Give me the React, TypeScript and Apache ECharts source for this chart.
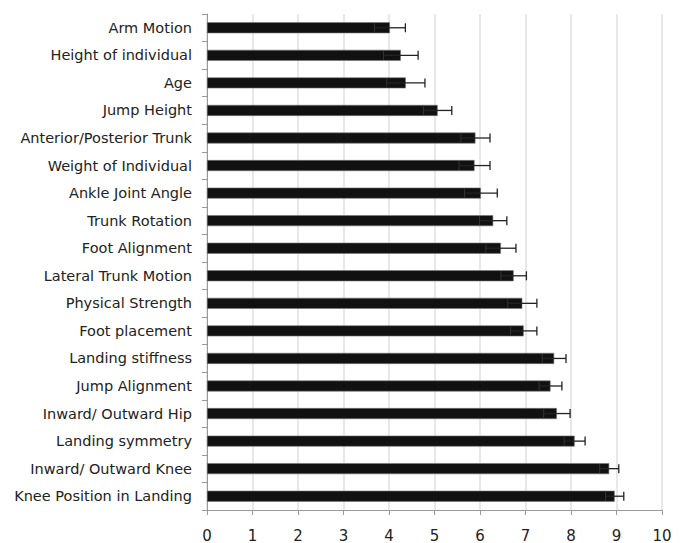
import React, { useEffect, useRef } from "react";
import * as echarts from "echarts";

const categories = [
  "Arm Motion",
  "Height of individual",
  "Age",
  "Jump Height",
  "Anterior/Posterior Trunk",
  "Weight of Individual",
  "Ankle Joint Angle",
  "Trunk Rotation",
  "Foot Alignment",
  "Lateral Trunk Motion",
  "Physical Strength",
  "Foot placement",
  "Landing stiffness",
  "Jump Alignment",
  "Inward/ Outward Hip",
  "Landing symmetry",
  "Inward/ Outward Knee",
  "Knee Position in Landing",
];

const means = [4.02, 4.26, 4.37, 5.07, 5.9, 5.88, 6.02, 6.29, 6.46, 6.74, 6.93, 6.96, 7.63, 7.55, 7.69, 8.08, 8.84, 8.96];
const errors = [0.34, 0.38, 0.42, 0.31, 0.32, 0.34, 0.36, 0.3, 0.33, 0.28, 0.32, 0.29, 0.26, 0.25, 0.29, 0.23, 0.21, 0.2];

const xTicks = [0, 1, 2, 3, 4, 5, 6, 7, 8, 9, 10];

export default function App() {
  const ref = useRef<HTMLDivElement>(null);
  useEffect(() => {
    if (!ref.current) return;
    const chart = echarts.init(ref.current, null, { renderer: "svg" });
    const errData = categories.map((_, i) => [i, means[i] - errors[i], means[i] + errors[i]]);
    chart.setOption({
      animation: false,
      grid: { left: 207, right: 19, top: 14, bottom: 28, containLabel: false },
      xAxis: {
        type: "value",
        min: xTicks[0],
        max: xTicks[xTicks.length - 1],
        interval: 1,
        axisLine: { show: true, lineStyle: { color: "#999" } },
        axisTick: { show: true, length: 5, lineStyle: { color: "#999" } },
        axisLabel: { color: "#222", fontSize: 15, fontFamily: "DejaVu Sans", margin: 18 },
        splitLine: { show: true, lineStyle: { color: "#e0e0e0", width: 1.5 } },
      },
      yAxis: {
        type: "category",
        data: categories,
        inverse: true,
        axisLine: { show: true, lineStyle: { color: "#999" } },
        axisTick: { show: true, length: 5, lineStyle: { color: "#999" } },
        axisLabel: { color: "#222", fontSize: 14.5, fontFamily: "DejaVu Sans", margin: 15 },
        splitLine: { show: false },
      },
      series: [
        {
          type: "bar",
          data: means,
          barWidth: 11,
          itemStyle: { color: "#111", borderColor: "#777", borderWidth: 0.6 },
        },
        {
          type: "custom",
          data: errData,
          encode: { x: [1, 2], y: 0 },
          z: 5,
          renderItem: (params: any, api: any) => {
            const idx = api.value(0);
            const lo = api.coord([api.value(1), idx]);
            const hi = api.coord([api.value(2), idx]);
            const h = 4.5;
            const style = { stroke: "#222", lineWidth: 1.3 };
            return {
              type: "group",
              children: [
                { type: "line", shape: { x1: lo[0], y1: lo[1], x2: hi[0], y2: hi[1] }, style },
                { type: "line", shape: { x1: hi[0], y1: hi[1] - h, x2: hi[0], y2: hi[1] + h }, style },
                { type: "line", shape: { x1: lo[0], y1: lo[1] - h, x2: lo[0], y2: lo[1] + h }, style: { stroke: "#333", lineWidth: 1 } },
              ],
            };
          },
        },
      ],
    });
    return () => chart.dispose();
  }, []);
  return (
    <div
      ref={ref}
      style={{ position: "fixed", left: 0, top: 0, width: 681, height: 543, background: "#fff" }}
    />
  );
}
